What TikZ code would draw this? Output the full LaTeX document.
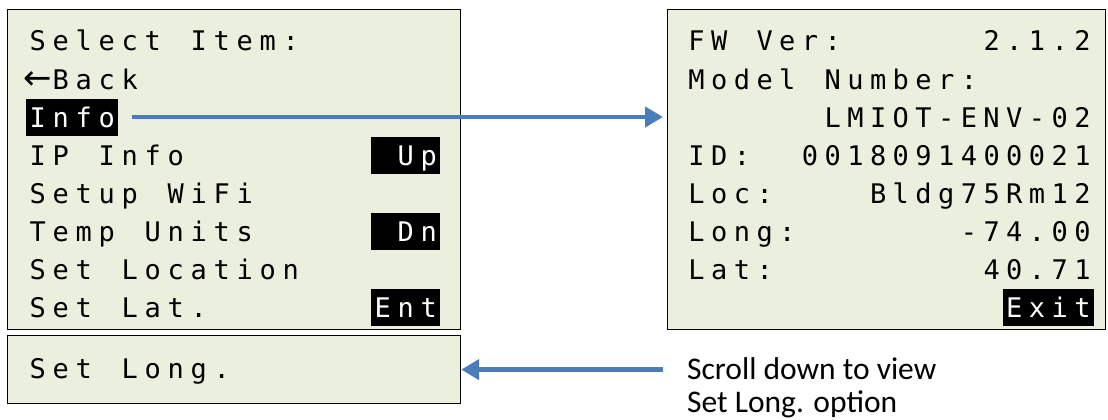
\documentclass[tikz,border=0pt]{standalone}
\usepackage{fontspec}
\usetikzlibrary{arrows.meta,calc}
\newfontfamily\lcdfont{DejaVu Sans Mono}
\newfontfamily\arrowfont{DejaVu Sans}
\newfontfamily\notefont{Carlito}
\definecolor{lcdbg}{RGB}{235,239,222}
\definecolor{arrblue}{RGB}{74,126,187}
\newlength\lcdpitch
\def\lcdchars#1{\ifx#1\relax\else\makebox[\lcdpitch][c]{#1}\expandafter\lcdchars\fi}
\newcommand\lcd[1]{\lcdchars#1\relax}
\newcommand\larr{{\arrowfont\fontsize{34}{34}\selectfont ←}}
\begin{document}
\begin{tikzpicture}[x=1pt,y=-1pt,
  lcdbox/.style={draw=black,line width=1.2pt,fill=lcdbg,inner sep=0pt,anchor=north west},
  row/.style={inner sep=0pt,anchor=base west,font=\lcdfont\fontsize{27}{27}\selectfont},
  hl/.style={row,fill=black,text=white,text height=28.5pt,text depth=8.5pt},
  arr/.style={draw=arrblue,line width=4.5pt,-{Triangle[length=18pt,width=20pt]}},
  note/.style={inner sep=0pt,anchor=base west,font=\notefont\fontsize{31.5}{38}\selectfont},
]
\useasboundingbox (0,0) rectangle (1108,420);
% boxes
\node[lcdbox,minimum width=453pt,minimum height=320pt] (lbox) at (7,9) {};
\node[lcdbox,minimum width=453pt,minimum height=68pt] (lbox2) at (7,335) {};
\node[lcdbox,minimum width=438pt,minimum height=320pt] (rbox) at (667,9) {};
% left menu
\setlength\lcdpitch{23pt}
\node[row] (l0) at (26,51) {\lcd{Select~Item:}};
\node[row] (l1) at (26,89) {\lcd{\larr Back}};
\node[hl]  (info) at (26,127) {\lcd{Info}};
\node[row] (l3) at (26,165) {\lcd{IP~Info}};
\node[hl]  (up) at (371,165) {\lcd{~Up}};
\node[row] (l4) at (26,203) {\lcd{Setup~WiFi}};
\node[row] (l5) at (26,241) {\lcd{Temp~Units}};
\node[hl]  (dn) at (371,241) {\lcd{~Dn}};
\node[row] (l6) at (26,279) {\lcd{Set~Location}};
\node[row] (l7) at (26,317) {\lcd{Set~Lat.}};
\node[hl]  (ent) at (371,317) {\lcd{Ent}};
\node[row] (l8) at (26,378) {\lcd{Set~Long.}};
% right info screen
\setlength\lcdpitch{22.7pt}
\node[row] (r0) at (685,51) {\lcd{FW~Ver:~~~~~~2.1.2}};
\node[row] (r1) at (685,89) {\lcd{Model~Number:}};
\node[row] (r2) at (685,127) {\lcd{~~~~~~LMIOT-ENV-02}};
\node[row] (r3) at (685,165) {\lcd{ID:~~0018091400021}};
\node[row] (r4) at (685,203) {\lcd{Loc:~~~~Bldg75Rm12}};
\node[row] (r5) at (685,241) {\lcd{Long:~~~~~~~-74.00}};
\node[row] (r6) at (685,279) {\lcd{Lat:~~~~~~~~~40.71}};
\node[hl]  (exit) at (1002.8,317) {\lcd{Exit}};
% note
\node[note] (note1) at (687,379) {Scroll down to view};
\node[note] (note2) at (687,412) {Set Long. option};
% arrows
\draw[arr,shorten >=4pt] ([xshift=14pt]info.east) -- (info.east -| rbox.west);
\draw[arr] ([xshift=-24pt]note1.west |- lbox2.east) -- (lbox2.east);
\end{tikzpicture}
\end{document}
